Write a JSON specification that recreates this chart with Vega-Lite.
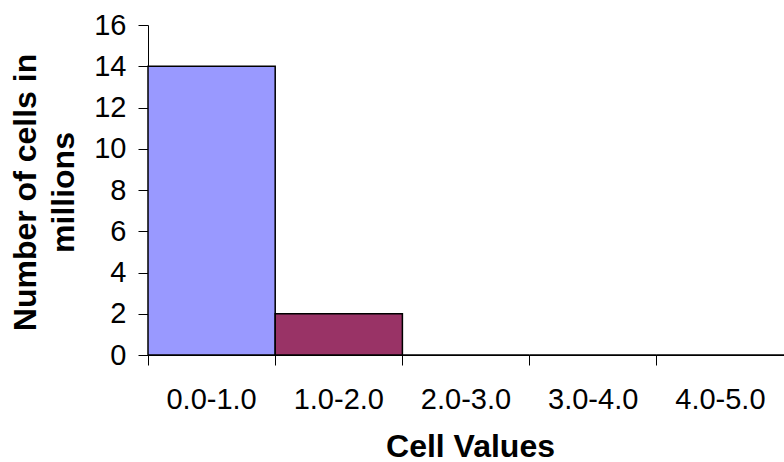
{
  "$schema": "https://vega.github.io/schema/vega-lite/v6.json",
  "width": 636,
  "height": 330,
  "autosize": {"type": "none"},
  "padding": {"left": 148, "top": 25, "right": 0, "bottom": 107},
  "background": "white",
  "data": {
    "values": [
      {"range": "0.0-1.0", "cells": 14},
      {"range": "1.0-2.0", "cells": 2},
      {"range": "2.0-3.0", "cells": 0},
      {"range": "3.0-4.0", "cells": 0},
      {"range": "4.0-5.0", "cells": 0}
    ]
  },
  "mark": {"type": "bar", "stroke": "black", "strokeWidth": 1.5},
  "encoding": {
    "x": {
      "field": "range",
      "type": "nominal",
      "sort": null,
      "scale": {"paddingInner": 0, "paddingOuter": 0},
      "axis": {
        "title": "Cell Values",
        "labelAngle": 0,
        "bandPosition": 0,
        "tickSize": 10,
        "labelPadding": 20,
        "labelFontSize": 29,
        "labelFont": "Liberation Sans",
        "labelColor": "black",
        "titleFont": "Liberation Sans",
        "titleFontSize": 32,
        "titleFontWeight": "bold",
        "titleColor": "black",
        "titleX": 322,
        "titleY": 101,
        "titleBaseline": "alphabetic",
        "titleAlign": "center",
        "domainColor": "black",
        "tickColor": "black"
      }
    },
    "y": {
      "field": "cells",
      "type": "quantitative",
      "scale": {"domain": [0, 16], "nice": false},
      "axis": {
        "values": [0, 2, 4, 6, 8, 10, 12, 14, 16],
        "grid": false,
        "title": ["Number of cells in", "millions"],
        "titleFont": "Liberation Sans",
        "titleFontSize": 32,
        "titleFontWeight": "bold",
        "titleColor": "black",
        "titleLineHeight": 38,
        "titleX": -113,
        "titleY": 167,
        "titleAngle": -90,
        "titleBaseline": "alphabetic",
        "titleAlign": "center",
        "labelFontSize": 29,
        "labelFont": "Liberation Sans",
        "labelColor": "black",
        "labelPadding": 12,
        "tickSize": 10,
        "domainColor": "black",
        "tickColor": "black"
      }
    },
    "color": {
      "field": "range",
      "type": "nominal",
      "sort": null,
      "scale": {
        "domain": ["0.0-1.0", "1.0-2.0", "2.0-3.0", "3.0-4.0", "4.0-5.0"],
        "range": ["#9999FF", "#993366", "#FFFFCC", "#CCFFFF", "#660066"]
      },
      "legend": null
    }
  },
  "config": {"view": {"stroke": null}}
}
